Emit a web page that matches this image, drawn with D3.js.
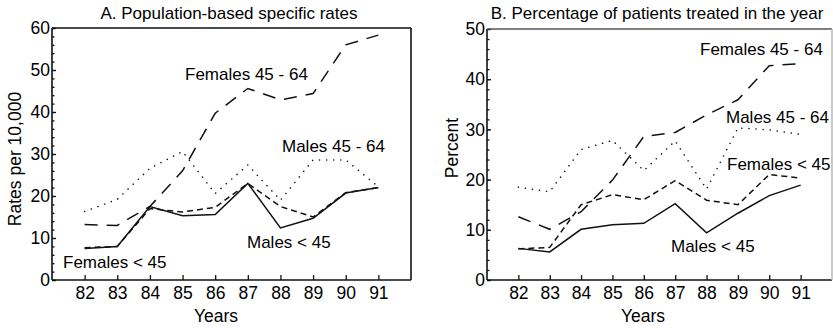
<!DOCTYPE html>
<html>
<head>
<meta charset="utf-8">
<script src="https://cdn.jsdelivr.net/npm/d3@7"></script>
<style>
  body { margin: 0; background: #fff; }
  svg text { font-family: "Liberation Sans", Arial, sans-serif; fill: #000; }
  .frame { fill: none; stroke: #111; stroke-width: 1.6; }
  .tick line { stroke: #111; stroke-width: 1.3; }
  .serie { fill: none; stroke: #111; stroke-width: 1.5; }
</style>
</head>
<body>
<script>
//data
var years = [82, 83, 84, 85, 86, 87, 88, 89, 90, 91];

//panel A - rates per 10,000
var rateFemales4564 = [13.2, 13, 17.5, 26, 39.7, 45.6, 42.9, 44.4, 56, 58.3];
var rateMales4564 = [16.3, 19.2, 26.6, 30.6, 20.6, 27.4, 19, 28.6, 28.6, 22.2];
var rateFemales45 = [7.7, 8, 17, 16.2, 17.3, 23, 17.5, 15, 20.8, 22];
var rateMales45 = [7.5, 8, 17.5, 15.3, 15.6, 23, 12.4, 14.7, 20.7, 22];

//panel B - percentage of patients treated
var pctFemales4564 = [12.6, 10.1, 13.6, 19.9, 28.6, 29.4, 32.9, 35.9, 42.7, 43.1];
var pctMales4564 = [18.5, 17.6, 26, 27.8, 21.8, 27.7, 18.1, 30.3, 29.9, 29];
var pctFemales45 = [6.2, 6.5, 15, 17, 16, 19.8, 15.9, 15, 21, 20.3];
var pctMales45 = [6.3, 5.6, 10.1, 11, 11.3, 15.2, 9.4, 13.3, 16.8, 18.9];

var yTicksA = [0, 10, 20, 30, 40, 50, 60];
var yTicksB = [0, 10, 20, 30, 40, 50];

var svg = d3.select("body").append("svg")
    .attr("width", 833)
    .attr("height", 328);

//dash pattern per group
var dashes = {
    fOld: "13,9",
    mOld: "0.1,7",
    fYoung: "6,4",
    mYoung: null
};

function drawPanel(opt){
    var x = d3.scaleLinear().domain([81, 92]).range([opt.left, opt.right]);
    var y = d3.scaleLinear().domain([0, opt.yMax]).range([opt.bottom, opt.top]);
    var g = svg.append("g");

    //minor y ticks every 2 units, pointing inward
    var minor = d3.range(0, opt.yMax + 0.1, 2);
    g.append("g")
        .attr("transform", "translate(" + opt.left + ",0)")
        .call(d3.axisRight(y).tickValues(minor).tickSize(2.5).tickFormat(""))
        .select(".domain").remove();

    //major y ticks
    var ya = g.append("g")
        .attr("transform", "translate(" + opt.left + ",0)")
        .call(d3.axisLeft(y).tickValues(opt.yTicks).tickSizeInner(-4).tickSizeOuter(0).tickPadding(6));
    ya.select(".domain").remove();
    ya.selectAll("text").attr("font-size", 17.5).attr("x", -2);

    //x ticks upward
    var xa = g.append("g")
        .attr("transform", "translate(0," + opt.bottom + ")")
        .call(d3.axisBottom(x).tickValues(years).tickSizeInner(-5).tickSizeOuter(0).tickPadding(6));
    xa.select(".domain").remove();
    xa.selectAll("text").attr("font-size", 17.5).attr("y", 7);

    //frame
    g.append("line").attr("class", "frame")
        .attr("x1", opt.left).attr("x2", opt.left).attr("y1", opt.top).attr("y2", opt.bottom);
    g.append("line").attr("class", "frame")
        .attr("x1", opt.left).attr("x2", opt.right).attr("y1", opt.bottom).attr("y2", opt.bottom);
    g.append("line").attr("class", "frame")
        .attr("x1", opt.left).attr("x2", opt.right).attr("y1", opt.top).attr("y2", opt.top)
        .style("stroke", opt.topColor);
    g.append("line").attr("class", "frame")
        .attr("x1", opt.right).attr("x2", opt.right).attr("y1", opt.top).attr("y2", opt.bottom)
        .style("stroke", opt.rightColor);

    var line = d3.line()
        .x(function(d, i){ return x(years[i]); })
        .y(function(d){ return y(d); });

    opt.series.forEach(function(s){
        g.append("path")
            .datum(s.values)
            .attr("class", "serie")
            .attr("d", line)
            .attr("stroke-dasharray", dashes[s.key])
            .attr("stroke-linecap", s.key == "mOld" ? "round" : "butt")
            .attr("stroke-width", s.key == "mOld" ? 2.8 : 1.5);
        g.append("text")
            .attr("x", s.lx)
            .attr("y", s.ly)
            .attr("font-size", 17)
            .text(s.label);
    });

    //titles
    g.append("text")
        .attr("x", opt.titleX).attr("y", 19)
        .attr("text-anchor", "middle")
        .attr("font-size", 17)
        .text(opt.title);
    g.append("text")
        .attr("x", opt.yearsX).attr("y", 322)
        .attr("text-anchor", "middle")
        .attr("font-size", 17.5)
        .text("Years");
    g.append("text")
        .attr("transform", "translate(" + opt.yLabelX + "," + opt.yLabelY + ") rotate(-90)")
        .attr("text-anchor", "middle")
        .attr("font-size", 17.5)
        .text(opt.yLabel);
}

drawPanel({
    left: 52, right: 411, top: 28, bottom: 280, yMax: 60,
    yTicks: yTicksA,
    title: "A. Population-based specific rates", titleX: 229,
    yLabel: "Rates per 10,000", yLabelX: 21, yLabelY: 159,
    yearsX: 216,
    topColor: "#111", rightColor: "#111",
    series: [
        {key: "fOld", values: rateFemales4564, label: "Females 45 - 64", lx: 185, ly: 80},
        {key: "mOld", values: rateMales4564, label: "Males 45 - 64", lx: 282, ly: 152},
        {key: "fYoung", values: rateFemales45, label: "Females < 45", lx: 63, ly: 268},
        {key: "mYoung", values: rateMales45, label: "Males < 45", lx: 247, ly: 248}
    ]
});

drawPanel({
    left: 487, right: 832, top: 29, bottom: 280, yMax: 50,
    yTicks: yTicksB,
    title: "B. Percentage of patients treated in the year", titleX: 657,
    yLabel: "Percent", yLabelX: 458, yLabelY: 148,
    yearsX: 643,
    topColor: "#555", rightColor: "#bbb",
    series: [
        {key: "fOld", values: pctFemales4564, label: "Females 45 - 64", lx: 700, ly: 55},
        {key: "mOld", values: pctMales4564, label: "Males 45 - 64", lx: 726, ly: 123},
        {key: "fYoung", values: pctFemales45, label: "Females < 45", lx: 727, ly: 170},
        {key: "mYoung", values: pctMales45, label: "Males < 45", lx: 671, ly: 252}
    ]
});
</script>
</body>
</html>
